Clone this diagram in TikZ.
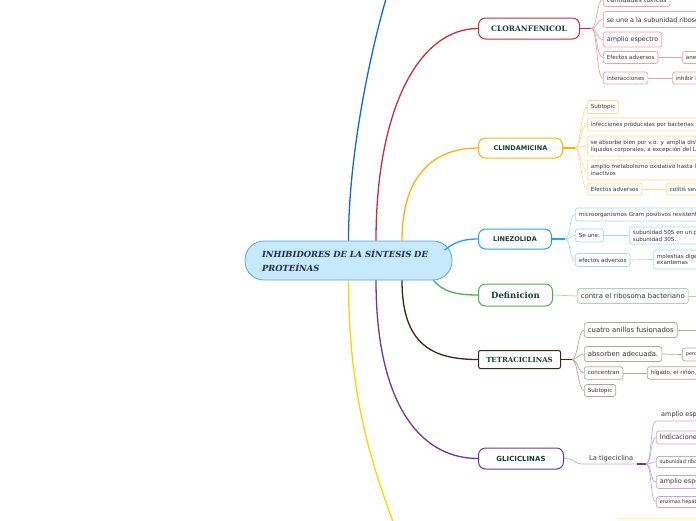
\documentclass[tikz,border=0pt]{standalone}
\usepackage{fontspec}
\setmainfont{DejaVu Serif}
\setsansfont{DejaVu Sans}
\definecolor{rootfill}{HTML}{C6E9FB}
\definecolor{rootline}{HTML}{5AA6DA}
\definecolor{roottext}{HTML}{1F2D4E}
\definecolor{ttext}{HTML}{173F35}
\definecolor{subtext}{HTML}{333333}
\definecolor{bluec}{HTML}{1565D8}
\definecolor{redc}{HTML}{C62F37}
\definecolor{redl}{HTML}{E9A3A9}
\definecolor{orangec}{HTML}{FFB300}
\definecolor{orangel}{HTML}{FFD98C}
\definecolor{cyanc}{HTML}{1AA6EA}
\definecolor{cyanl}{HTML}{A5DAF5}
\definecolor{greenc}{HTML}{4CAF50}
\definecolor{greenl}{HTML}{A8D8AA}
\definecolor{brownc}{HTML}{3B2418}
\definecolor{brownl}{HTML}{B3A59D}
\definecolor{purplec}{HTML}{6A3A9A}
\definecolor{purplel}{HTML}{C3A8DB}
\definecolor{yellowc}{HTML}{FFD500}
\begin{document}
\begin{tikzpicture}[x=1pt,y=-1pt,
  topic/.style={draw, fill=white, line width=1pt, rounded corners=7pt, anchor=west, minimum height=20pt, inner sep=0pt, text=ttext},
  sub/.style={draw, fill=white, line width=0.7pt, rounded corners=2.5pt, anchor=west, align=left, inner xsep=3.5pt, inner ysep=1pt, minimum height=14pt, font=\sffamily\fontsize{6.4}{7.5}\selectfont, text=subtext},
  bigsub/.style={sub, minimum height=15pt, font=\sffamily\fontsize{6.9}{8}\selectfont},
  small/.style={sub, minimum height=12pt, font=\sffamily\fontsize{5.6}{6.6}\selectfont},
  tiny/.style={sub, minimum height=10.5pt, font=\sffamily\fontsize{5}{6}\selectfont},
  two/.style={sub, minimum height=19pt, font=\sffamily\fontsize{5.6}{6.8}\selectfont},
  stem/.style={line width=1.3pt},
  twig/.style={line width=0.7pt}]
  \clip (0,0) rectangle (696,520);

  % central topic
  \node[draw=rootline, fill=rootfill, line width=0.8pt, rounded corners=19pt, minimum width=207pt, minimum height=39pt, text width=173pt, align=left, inner sep=0pt, font=\bfseries\itshape\fontsize{8.4}{14}\selectfont, text=roottext] (root) at (348.5,260.5) {INHIBIDORES DE LA SÍNTESIS DE\\PROTEÍNAS};

  % main topics
  \node[topic, draw=redc, minimum width=101pt, minimum height=21pt, font=\bfseries\fontsize{7.5}{9}\selectfont] (clor) at (478,28.5) {CLORANFENICOL};
  \node[topic, draw=orangec, minimum width=84pt, font=\sffamily\bfseries\fontsize{6.5}{8}\selectfont] (clin) at (478,148) {CLINDAMICINA};
  \node[topic, draw=cyanc, minimum width=73pt, font=\sffamily\bfseries\fontsize{6.5}{8}\selectfont] (linez) at (478,239) {LINEZOLIDA};
  \node[topic, draw=greenc, minimum width=74pt, minimum height=22pt, font=\bfseries\fontsize{8.5}{10}\selectfont] (defi) at (478,295) {Definicion};
  \node[topic, draw=brownc, rounded corners=2pt, minimum width=82pt, minimum height=18pt, font=\bfseries\fontsize{7}{9}\selectfont] (tetra) at (478,359.5) {TETRACICLINAS};
  \node[topic, draw=purplec, minimum width=85pt, minimum height=21pt, font=\sffamily\bfseries\fontsize{7}{9}\selectfont] (glic) at (478,458.5) {GLICICLINAS};

  % branches from the centre
  \coordinate (up) at (392,-20);
  \coordinate (down) at (396,530);
  \draw[stem, bluec] (root.north) .. controls +(0,-100) and +(-14,40) .. (up);
  \draw[stem, redc] ([xshift=27.5pt]root.north) .. controls +(0,-130) and +(-60,0) .. (clor.west);
  \draw[stem, orangec] ([xshift=53.5pt]root.north) .. controls +(0,-70) and +(-40,0) .. (clin.west);
  \draw[stem, cyanc] ([xshift=96pt,yshift=-9.5pt]root.north) .. controls +(10,-8) and +(-15,0) .. (linez.west);
  \draw[stem, greenc] ([xshift=85pt]root.south) .. controls +(10,12) and +(-20,0) .. (defi.west);
  \draw[stem, brownc] ([xshift=53.5pt]root.south) .. controls +(0,65) and +(-45,0) .. (tetra.west);
  \draw[stem, purplec] ([xshift=27.5pt]root.south) .. controls +(0,120) and +(-60,0) .. (glic.west);
  \draw[stem, yellowc] (root.south) .. controls +(0,120) and +(-22,-60) .. (down);

  % CLORANFENICOL
  \coordinate (jr) at (591,28.5);
  \node[sub, draw=redl] (clor1) at (603,-0.5) {cantidades tóxicas};
  \node[sub, draw=redl, minimum height=16pt] (clor2) at (603,19.5) {se une a la subunidad ribosómica 50S};
  \node[sub, draw=redl, minimum height=15pt] (clor3) at (603,39.5) {amplio espectro};
  \node[small, draw=redl] (clor4) at (603,57.5) {Efectos adversos};
  \node[small, draw=redl] (clor5) at (603,78) {interacciones};
  \node[small, draw=redl] (clor4b) at (682,57.5) {anemia aplásica};
  \node[small, draw=redl] (clor5b) at (672,78) {inhibir la biotransformación};
  \draw[stem, redc] (clor.east) -- (jr);
  \foreach \n in {clor1,clor2,clor3,clor4,clor5}
    \draw[twig, redl] (jr) .. controls +(7,0) and +(-7,0) .. (\n.west);
  \draw[twig, redl] (clor4.east) -- (clor4b.west);
  \draw[twig, redl] (clor5.east) -- (clor5b.west);

  % CLINDAMICINA
  \coordinate (jo) at (575,148);
  \node[small, draw=orangel, minimum height=13pt] (clin1) at (587,107) {Subtopic};
  \node[small, draw=orangel, minimum height=13pt] (clin2) at (587,124.5) {infecciones producidas por bacterias anaerobias};
  \node[two, draw=orangel, minimum height=20pt] (clin3) at (587,146) {se absorbe bien por v.o. y\, amplia distribución en\\líquidos corporales, a excepción del LCR};
  \node[two, draw=orangel, minimum height=20pt] (clin4) at (587,170) {amplio metabolismo oxidativo hasta la formación de productos\\inactivos};
  \node[small, draw=orangel] (clin5) at (587,189) {Efectos adversos};
  \node[small, draw=orangel] (clin5b) at (666,189) {colitis severa};
  \draw[stem, orangec] (clin.east) -- (jo);
  \foreach \n in {clin1,clin2,clin3,clin4,clin5}
    \draw[twig, orangel] (jo) .. controls +(6,0) and +(-6,0) .. (\n.west);
  \draw[twig, orangel] (clin5.east) -- (clin5b.west);

  % LINEZOLIDA
  \coordinate (jc) at (565,239);
  \node[small, draw=cyanl, minimum height=13pt] (linez1) at (575,214.5) {microorganismos Gram positivos resistentes};
  \node[small, draw=cyanl, minimum height=13pt] (linez2) at (575,235.5) {Se une:};
  \node[two, draw=cyanl, minimum height=17pt] (linez2b) at (629,235.5) {subunidad 50S en un punto de unión con la\\subunidad 30S.};
  \node[small, draw=cyanl, minimum height=13pt] (linez3) at (575,260) {efectos adversos};
  \node[two, draw=cyanl] (linez3b) at (653,259.5) {molestias digestivas\\exantemas};
  \draw[stem, cyanc] (linez.east) -- (jc);
  \foreach \n in {linez1,linez2,linez3}
    \draw[twig, cyanl] (jc) .. controls +(6,0) and +(-6,0) .. (\n.west);
  \draw[twig, cyanl] (linez2.east) -- (linez2b.west);
  \draw[twig, cyanl] (linez3.east) -- (linez3b.west);

  % Definicion
  \node[bigsub, draw=greenl] (defi1) at (577,296) {contra el ribosoma bacteriano};
  \coordinate (defi1r) at (700,296);
  \draw[twig, greenl] (defi.east) -- (defi1.west);
  \draw[twig, greenl] (defi1.east) -- (defi1r);

  % TETRACICLINAS
  \coordinate (jb) at (572,359.5);
  \node[bigsub, draw=brownl] (tetra1) at (584,330) {cuatro anillos fusionados};
  \node[bigsub, draw=brownl] (tetra2) at (584,354) {absorben adecuada.};
  \node[tiny, draw=brownl, minimum height=13pt] (tetra2b) at (682,354.5) {pero};
  \node[small, draw=brownl, minimum height=12.5pt] (tetra3) at (584,373) {concentran};
  \node[small, draw=brownl, minimum height=12.5pt] (tetra3b) at (647,373) {hígado, el riñón, el bazo};
  \node[small, draw=brownl, minimum height=12pt] (tetra4) at (584,390.5) {Subtopic};
  \coordinate (tetra1r) at (700,330);
  \draw[stem, brownc] (tetra.east) -- (jb);
  \foreach \n in {tetra1,tetra2,tetra3,tetra4}
    \draw[twig, brownl] (jb) .. controls +(6,0) and +(-6,0) .. (\n.west);
  \draw[twig, brownl] (tetra1.east) -- (tetra1r);
  \draw[twig, brownl] (tetra2.east) -- (tetra2b.west);
  \draw[twig, brownl] (tetra3.east) -- (tetra3b.west);

  % GLICICLINAS
  \coordinate (tig0) at (583,464);
  \coordinate (tig1) at (637,464);
  \coordinate (jp) at (646,464);
  \node[anchor=south west, inner sep=0pt, font=\sffamily\fontsize{6.7}{8}\selectfont, text=subtext] (tig) at (589,462) {La tigeciclina};
  \draw[twig, purplel] (glic.east) .. controls +(12,0) and +(-10,0) .. (tig0) -- (tig1);
  \draw[stem, purplec] (tig1) -- (jp);
  \node[anchor=south west, inner sep=0pt, font=\sffamily\fontsize{6.5}{7.5}\selectfont, text=subtext] (glic1) at (661,418) {amplio espectro};
  \coordinate (glic1l) at (656,421);
  \coordinate (glic1r) at (700,421);
  \node[sub, draw=purplel, minimum height=13pt, font=\sffamily\fontsize{6.5}{7.5}\selectfont] (glic2) at (656,437.5) {Indicaciones};
  \node[tiny, draw=purplel, minimum height=11pt] (glic3) at (656,462) {subunidad ribosómica 30S};
  \node[sub, draw=purplel, minimum height=13pt, font=\sffamily\fontsize{6.5}{7.5}\selectfont] (glic4) at (656,482) {amplio espectro};
  \node[tiny, draw=purplel, minimum height=11pt] (glic5) at (656,502) {enzimas hepáticas};
  \draw[twig, purplel] (jp) .. controls +(6,0) and +(-6,0) .. (glic1l) -- (glic1r);
  \foreach \n in {glic2,glic3,glic4,glic5}
    \draw[twig, purplel] (jp) .. controls +(6,0) and +(-6,0) .. (\n.west);

  % yellow topic below
  \fill[yellowc!8] (617,518.5) rectangle (700,530);
  \draw[yellowc!25, line width=0.5pt] (617,518.5) -- (700,518.5);
\end{tikzpicture}
\end{document}
